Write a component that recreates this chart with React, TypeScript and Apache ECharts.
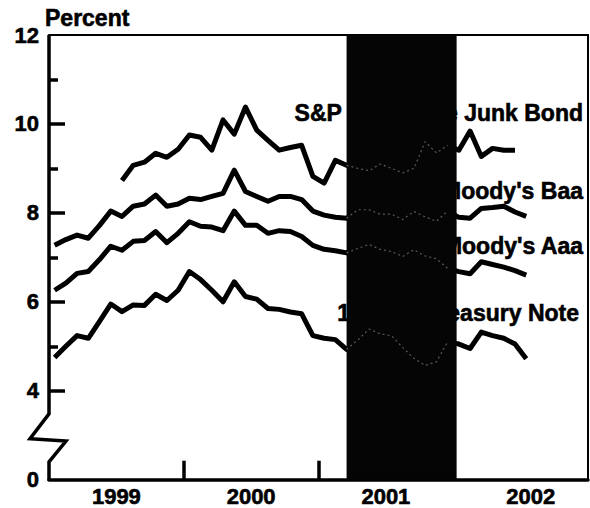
import React, { useEffect, useRef } from "react";
import * as echarts from "echarts";

// Monthly values, Jan 1999 .. Jul 2002 (percent)
const yearLabels = ["1999", "2000", "2001", "2002"];

const treasury10y = [
  4.75, 5.0, 5.24, 5.18, 5.56, 5.95, 5.78, 5.93, 5.92, 6.17, 6.03, 6.26,
  6.68, 6.5, 6.26, 6.0, 6.45, 6.12, 6.06, 5.85, 5.83, 5.77, 5.73, 5.24,
  5.18, 5.15, 4.93, 5.14, 5.39, 5.28, 5.24, 4.97, 4.73, 4.57, 4.65, 5.1,
  5.05, 4.95, 5.32, 5.24, 5.18, 5.05, 4.72,
];

const moodysAaa = [
  6.26, 6.42, 6.64, 6.68, 6.95, 7.25, 7.16, 7.36, 7.38, 7.58, 7.33, 7.54,
  7.8, 7.7, 7.68, 7.6, 8.04, 7.72, 7.72, 7.54, 7.6, 7.58, 7.47, 7.27,
  7.18, 7.15, 7.1, 7.2, 7.29, 7.18, 7.13, 7.02, 7.17, 7.03, 6.97, 6.75,
  6.68, 6.63, 6.9, 6.84, 6.78, 6.7, 6.6,
];

const moodysBaa = [
  7.27, 7.4, 7.5, 7.43, 7.72, 8.04, 7.92, 8.15, 8.2, 8.4, 8.15, 8.2,
  8.33, 8.3, 8.37, 8.44, 8.96, 8.48, 8.37, 8.26, 8.37, 8.37, 8.3, 8.04,
  7.95, 7.9, 7.88, 8.07, 8.07, 7.97, 7.97, 7.85, 8.03, 7.91, 7.81, 8.04,
  7.9, 7.88, 8.1, 8.12, 8.15, 8.02, 7.92,
];

const spJunk: (number | null)[] = [
  null, null, null, null, null, null, 8.73, 9.07, 9.14, 9.34, 9.25, 9.43,
  9.75, 9.7, 9.41, 10.09, 9.77, 10.38, 9.86, 9.63, 9.41, 9.47, 9.52, 8.82,
  8.67, 9.18, 9.07, 9.0, 8.95, 9.1, 9.0, 8.9, 9.0, 9.6, 9.35, 9.52,
  9.41, 9.84, 9.27, 9.45, 9.41, 9.41,
];

const yLabelValues = [2, 4, 6, 8, 10, 12]; // 2 is drawn as "0" (broken axis)
const yMajorTicks = [4, 6, 8, 10];
const yMinorTicks = [5, 7, 9, 11];
const xTickMonths = [12, 24, 36];
const xLabelMonths = [6, 18, 30, 42.9];
const recessionMonths = [26.5, 36.3];

const FONT = "'Liberation Sans', Arial, Helvetica, sans-serif";

const toXY = (arr: (number | null)[]) =>
  arr.map((v, i) => [i + 0.5, v === null ? null : v]);

// points that lie inside the shaded band, drawn as faint traces on top of it
const insideBand = (arr: (number | null)[]) =>
  arr
    .map((v, i) => [i + 0.5, v] as [number, number | null])
    .filter(([x]) => x >= recessionMonths[0] && x <= recessionMonths[1]);

export default function App() {
  const ref = useRef<HTMLDivElement>(null);

  useEffect(() => {
    if (!ref.current) return;
    const chart = echarts.init(ref.current, undefined, { renderer: "svg" });

    const lineSeries = (name: string, arr: (number | null)[]) => ({
      name,
      type: "line",
      data: toXY(arr),
      showSymbol: false,
      symbol: "none",
      connectNulls: false,
      z: 3,
      lineStyle: { color: "#000", width: 5, join: "round" },
    });

    const ghostSeries = (arr: (number | null)[]) => ({
      type: "line",
      data: insideBand(arr),
      showSymbol: false,
      symbol: "none",
      silent: true,
      z: 60,
      lineStyle: { color: "#5a5a5a", width: 1.2, type: [2, 3] },
    });

    const axisText = {
      color: "#000",
      fontFamily: FONT,
      fontWeight: "bold",
      fontSize: 22,
      textBorderColor: "#000",
      textBorderWidth: 0.6,
    };

    chart.setOption({
      animation: false,
      backgroundColor: "#fff",
      grid: { left: 49, right: 2, top: 35, bottom: 27 },
      xAxis: [
        {
          type: "value",
          min: 0,
          max: 48,
          position: "bottom",
          splitLine: { show: false },
          axisLine: { show: true, lineStyle: { color: "#000", width: 3.5 } },
          axisTick: {
            show: true,
            inside: true,
            length: 19,
            customValues: xTickMonths,
            lineStyle: { color: "#000", width: 3.5 },
          },
          axisLabel: {
            show: true,
            customValues: xLabelMonths,
            formatter: (v: number) => yearLabels[Math.floor(v / 12)] ?? "",
            ...axisText,
            margin: 6,
          },
        },
        {
          type: "value",
          min: 0,
          max: 48,
          position: "top",
          splitLine: { show: false },
          axisLine: { show: true, lineStyle: { color: "#000", width: 2 } },
          axisTick: { show: false },
          axisLabel: { show: false },
        },
      ],
      yAxis: [
        {
          type: "value",
          min: 2,
          max: 12,
          interval: 2,
          position: "left",
          splitLine: { show: false },
          axisLine: { show: false },
          axisTick: {
            show: true,
            inside: true,
            length: 16,
            customValues: yMajorTicks,
            lineStyle: { color: "#000", width: 3.5 },
          },
          axisLabel: {
            show: true,
            customValues: yLabelValues,
            formatter: (v: number) => (v === 2 ? "0" : String(v)),
            ...axisText,
            margin: 10,
          },
        },
        {
          type: "value",
          min: 2,
          max: 12,
          interval: 2,
          position: "left",
          splitLine: { show: false },
          axisLine: { show: false },
          axisTick: {
            show: true,
            inside: true,
            length: 9,
            customValues: yMinorTicks,
            lineStyle: { color: "#000", width: 3.5 },
          },
          axisLabel: { show: false },
        },
        {
          type: "value",
          min: 2,
          max: 12,
          interval: 2,
          position: "right",
          splitLine: { show: false },
          axisLine: { show: true, lineStyle: { color: "#000", width: 2 } },
          axisTick: { show: false },
          axisLabel: { show: false },
        },
      ],
      series: [
        lineSeries("10-Year Treasury Note", treasury10y),
        lineSeries("Moody's Aaa", moodysAaa),
        lineSeries("Moody's Baa", moodysBaa),
        lineSeries("S&P Corporate Junk Bond", spJunk),
        {
          name: "Recession",
          type: "line",
          data: [],
          z: 50,
          silent: true,
          markArea: {
            z: 50,
            silent: true,
            itemStyle: { color: "#050505", opacity: 1 },
            data: [[{ xAxis: recessionMonths[0] }, { xAxis: recessionMonths[1] }]],
          },
        },
        ghostSeries(treasury10y),
        ghostSeries(moodysAaa),
        ghostSeries(moodysBaa),
        ghostSeries(spJunk),
      ],
    });

    const x0 = chart.convertToPixel({ xAxisIndex: 0 }, 0) as number;
    const yv = (v: number) => chart.convertToPixel({ yAxisIndex: 0 }, v) as number;

    const labelStyle = (text: string, x: number, y: number) => ({
      type: "text",
      z: 5,
      style: {
        text,
        x,
        y,
        align: "right",
        verticalAlign: "middle",
        fill: "#000",
        stroke: "#000",
        lineWidth: 0.6,
        font: `bold 23px ${FONT}`,
      },
    });

    chart.setOption({
      graphic: [
        {
          type: "polyline",
          z: 20,
          shape: {
            points: [
              [x0, yv(12)],
              [x0, yv(3.48)],
              [x0 - 19, yv(2.92)],
              [x0 + 17, yv(2.87)],
              [x0, yv(2.4)],
              [x0, yv(2) + 1],
            ],
          },
          style: { stroke: "#000", lineWidth: 3.5, fill: null, lineJoin: "miter" },
        },
        {
          type: "text",
          z: 5,
          style: {
            text: "Percent",
            x: 45,
            y: 18,
            align: "left",
            verticalAlign: "middle",
            fill: "#000",
            stroke: "#000",
            lineWidth: 0.6,
            font: `bold 23px ${FONT}`,
          },
        },
        labelStyle("S&P Corporate Junk Bond", 583, 113),
        labelStyle("Moody's Baa", 583, 191),
        labelStyle("Moody's Aaa", 583, 246),
        labelStyle("10-Year Treasury Note", 579, 313),
      ],
    });

    return () => chart.dispose();
  }, []);

  return (
    <div
      ref={ref}
      style={{ position: "fixed", left: 0, top: 0, width: 590, height: 508, background: "#fff" }}
    />
  );
}
